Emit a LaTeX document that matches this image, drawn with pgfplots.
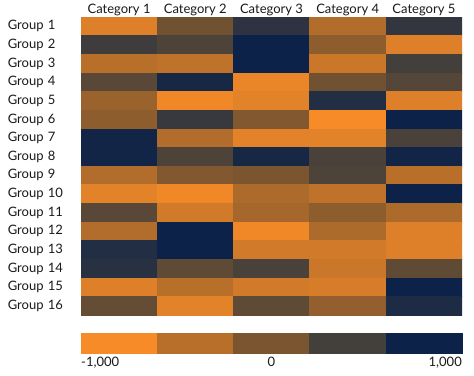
\documentclass[border=0pt]{standalone}
\usepackage{fontspec}
\setmainfont{Lato}
\usepackage{pgfplots}
\pgfplotsset{compat=1.18}
\pgfplotsset{colormap={hm}{rgb255=(246,139,40) rgb255=(184,111,42) rgb255=(123,85,48) rgb255=(67,63,59) rgb255=(12,34,72)}}
\begin{document}
\begin{tikzpicture}
\useasboundingbox (0,0) rectangle (474pt,375pt);
\begin{axis}[
  at={(81pt,60pt)}, anchor=south west,
  scale only axis, width=381pt, height=298pt,
  xmin=-0.5, xmax=4.5, ymin=-0.5, ymax=15.5, y dir=reverse,
  colormap name=hm, point meta min=-1000, point meta max=1000,
  axis line style={draw=none}, tick style={draw=none},
  xtick={0,...,4}, xticklabels={Category 1,Category 2,Category 3,Category 4,Category 5},
  xticklabel pos=upper,
  xticklabel style={font=\fontsize{13}{15}\selectfont, text=black!90, inner sep=0pt, yshift=1pt},
  ytick={0,...,15},
  yticklabels={Group 1,Group 2,Group 3,Group 4,Group 5,Group 6,Group 7,Group 8,Group 9,Group 10,Group 11,Group 12,Group 13,Group 14,Group 15,Group 16},
  yticklabel style={font=\fontsize{13}{15}\selectfont, text=black!90, anchor=east, text width=73pt, align=left, inner sep=0pt},
]
\addplot[matrix plot*, point meta=explicit, mesh/cols=5] table[meta=C] {
x y C
0 0 -800
1 0 100
2 0 700
3 0 -450
4 0 650
0 1 550
1 1 400
2 1 1000
3 1 -150
4 1 -800
0 2 -500
1 2 -550
2 2 1000
3 2 -650
4 2 500
0 3 300
1 3 900
2 3 -900
3 3 100
4 3 350
0 4 -250
1 4 -950
2 4 -850
3 4 800
4 4 -800
0 5 -150
1 5 600
2 5 -50
3 5 -1000
4 5 1000
0 6 950
1 6 -450
2 6 -850
3 6 -850
4 6 450
0 7 950
1 7 400
2 7 900
3 7 450
4 7 950
0 8 -450
1 8 -50
2 8 0
3 8 400
4 8 -500
0 9 -850
1 9 -950
2 9 -400
3 9 -550
4 9 1000
0 10 300
1 10 -700
2 10 -350
3 10 -150
4 10 -400
0 11 -450
1 11 1000
2 11 -950
3 11 -400
4 11 -800
0 12 800
1 12 1000
2 12 -700
3 12 -700
4 12 -800
0 13 750
1 13 250
2 13 450
3 13 -650
4 13 250
0 14 -800
1 14 -500
2 14 -700
3 14 -750
4 14 1000
0 15 200
1 15 -850
2 15 250
3 15 -200
4 15 850
};
\end{axis}
\begin{axis}[
  at={(81pt,22pt)}, anchor=south west,
  scale only axis, width=381pt, height=20pt,
  xmin=-0.5, xmax=4.5, ymin=-0.5, ymax=1.5,
  colormap name=hm, point meta min=-1000, point meta max=1000,
  axis line style={draw=none}, tick style={draw=none},
  xtick=\empty, ytick=\empty, clip=false,
]
\addplot[matrix plot*, point meta=explicit, mesh/cols=5] table[meta=C] {
x y C
0 0 -1000
1 0 -500
2 0 0
3 0 500
4 0 1000
0 1 -1000
1 1 -500
2 1 0
3 1 500
4 1 1000
};
\node[anchor=north west, inner sep=0pt, text=black!90, font=\fontsize{13}{15}\selectfont] at (rel axis cs:0,0) [yshift=-4pt] {-1,000};
\node[anchor=north, inner sep=0pt, text=black!90, font=\fontsize{13}{15}\selectfont] at (rel axis cs:0.5,0) [yshift=-4pt] {0};
\node[anchor=north east, inner sep=0pt, text=black!90, font=\fontsize{13}{15}\selectfont] at (rel axis cs:1,0) [yshift=-4pt] {1,000};
\end{axis}
\end{tikzpicture}
\end{document}
